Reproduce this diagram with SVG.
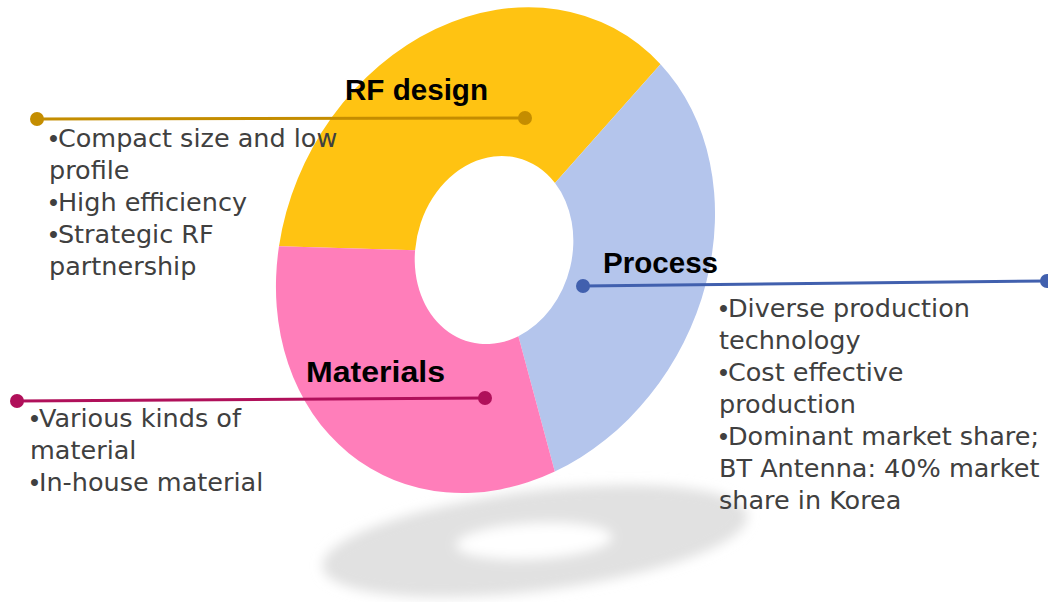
<svg xmlns="http://www.w3.org/2000/svg" width="1048" height="602" viewBox="0 0 1048 602">
  <defs>
    <filter id="blur" x="-20%" y="-60%" width="140%" height="220%">
      <feGaussianBlur stdDeviation="6"/>
    </filter>
    <style>
      .head { font-family: "Liberation Sans", Arial, sans-serif; font-weight: bold; font-size: 30px; fill: #000000; }
      .body { font-family: "DejaVu Sans", "Liberation Sans", sans-serif; font-size: 25.5px; fill: #404040; }
      .bu { font-family: "Liberation Sans", Arial, sans-serif; }
      .rf { fill: #FFC312; }
      .pr { fill: #B4C5EC; }
      .ma { fill: #FF7EBA; }
      .ln { fill: none; stroke-width: 3; }
    </style>
  </defs>
  <rect width="1048" height="602" fill="#ffffff"/>

  <g id="shadow" filter="url(#blur)">
    <ellipse cx="535" cy="541" rx="214" ry="50" transform="rotate(-7 535 541)" fill="#e1e1e1"/>
    <ellipse cx="534" cy="541" rx="78" ry="18" transform="rotate(-3 534 541)" fill="#ffffff"/>
  </g>

  <g id="node-rf">
    <path class="rf" d="M279,246.2 A209.6,251.6 28 0 1 660.5,64.2 L555,183.1 A78,95 15 0 0 415.1,250.2 Z"/>
    <text class="head" x="345" y="100" textLength="143" lengthAdjust="spacingAndGlyphs">RF design</text>
    <text class="body" x="49" y="147"><tspan class="bu">•</tspan>Compact size and low</text>
    <text class="body" x="49" y="179">profile</text>
    <text class="body" x="49" y="211"><tspan class="bu">•</tspan>High efficiency</text>
    <text class="body" x="49" y="243"><tspan class="bu">•</tspan>Strategic RF</text>
    <text class="body" x="49" y="275">partnership</text>
  </g>

  <g id="node-process">
    <path class="pr" d="M660.5,64.2 A209.6,251.6 28 0 1 554.8,471.5 L518.4,336.2 A78,95 15 0 0 555,183.1 Z"/>
    <text class="head" x="603" y="273" textLength="115" lengthAdjust="spacingAndGlyphs">Process</text>
    <text class="body" x="719" y="317"><tspan class="bu">•</tspan>Diverse production</text>
    <text class="body" x="719" y="349">technology</text>
    <text class="body" x="719" y="381"><tspan class="bu">•</tspan>Cost effective</text>
    <text class="body" x="719" y="413">production</text>
    <text class="body" x="719" y="445"><tspan class="bu">•</tspan>Dominant market share;</text>
    <text class="body" x="719" y="477">BT Antenna: 40% market</text>
    <text class="body" x="719" y="509">share in Korea</text>
  </g>

  <g id="node-materials">
    <path class="ma" d="M554.8,471.5 A209.6,251.6 28 0 1 279,246.2 L415.1,250.2 A78,95 15 0 0 518.4,336.2 Z"/>
    <text class="head" x="306" y="382" textLength="139" lengthAdjust="spacingAndGlyphs">Materials</text>
    <text class="body" x="30" y="427"><tspan class="bu">•</tspan>Various kinds of</text>
    <text class="body" x="30" y="459">material</text>
    <text class="body" x="30" y="491"><tspan class="bu">•</tspan>In-house material</text>
  </g>

  <g id="connectors">
    <line class="ln" x1="37" y1="119" x2="525" y2="118" stroke="#C48D00"/>
    <circle cx="37" cy="119" r="7" fill="#C48D00"/>
    <circle cx="525" cy="118" r="7" fill="#C48D00"/>
    <line class="ln" x1="583" y1="286" x2="1047" y2="281" stroke="#4160AE"/>
    <circle cx="583" cy="286" r="7" fill="#4160AE"/>
    <circle cx="1047" cy="281" r="7" fill="#4160AE"/>
    <line class="ln" x1="17" y1="401" x2="485" y2="398" stroke="#B0105A"/>
    <circle cx="17" cy="401" r="7" fill="#B0105A"/>
    <circle cx="485" cy="398" r="7" fill="#B0105A"/>
  </g>
</svg>
